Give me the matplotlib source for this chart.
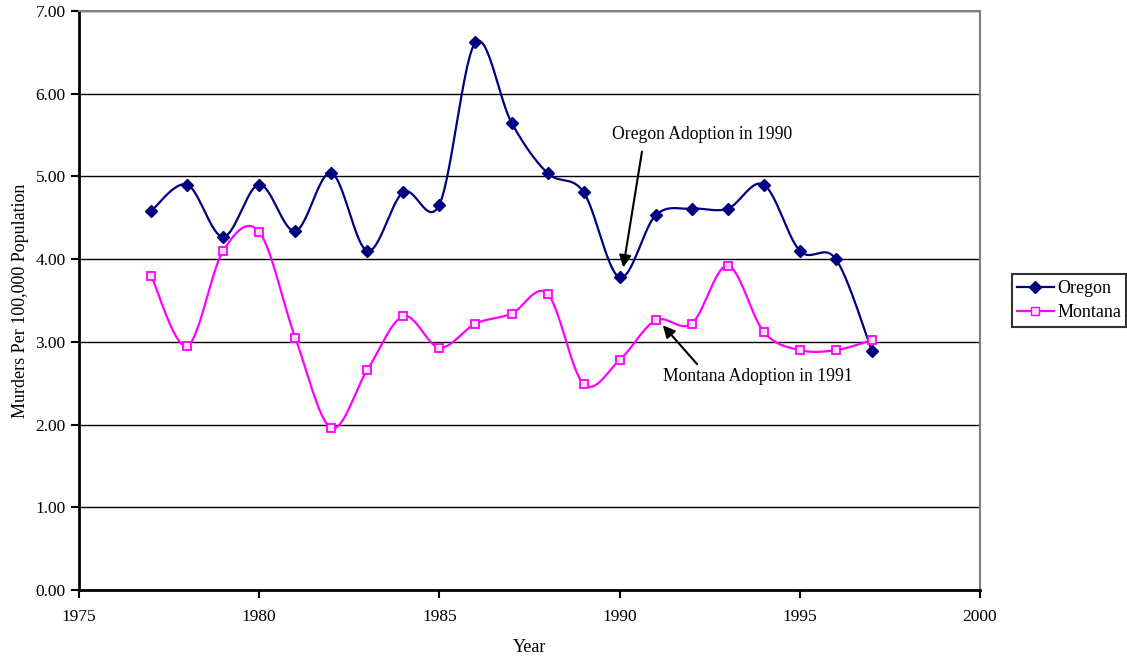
import numpy as np
import matplotlib
matplotlib.use("Agg")
import matplotlib.pyplot as plt

plt.rcParams['font.family'] = ['Liberation Serif', 'DejaVu Serif']

years = list(range(1977, 1998))
oregon = [4.58, 4.90, 4.27, 4.90, 4.34, 5.04, 4.10, 4.81, 4.66, 6.62, 5.65,
          5.04, 4.81, 3.78, 4.53, 4.61, 4.61, 4.90, 4.10, 4.00, 2.89]
montana = [3.80, 2.95, 4.10, 4.33, 3.05, 1.96, 2.66, 3.31, 2.93, 3.22, 3.34,
           3.58, 2.49, 2.78, 3.26, 3.22, 3.92, 3.12, 2.90, 2.90, 3.02]


#curva suavizada tipo Excel (Catmull-Rom) que pasa por los puntos
def smooth(x, y, n=30):
    x = np.asarray(x, float)
    y = np.asarray(y, float)
    px = np.concatenate([[x[0]], x, [x[-1]]])
    py = np.concatenate([[y[0]], y, [y[-1]]])
    xs, ys = [], []
    t = np.linspace(0, 1, n)
    for i in range(1, len(px) - 2):
        for p, out in ((px, xs), (py, ys)):
            p0, p1, p2, p3 = p[i - 1], p[i], p[i + 1], p[i + 2]
            c1 = p1 + (p2 - p0) / 6
            c2 = p2 - (p3 - p1) / 6
            out.extend((1 - t)**3 * p1 + 3 * (1 - t)**2 * t * c1
                       + 3 * (1 - t) * t**2 * c2 + t**3 * p2)
    return np.array(xs), np.array(ys)


fig = plt.figure(figsize=(11.27, 6.62), dpi=100)
ax = fig.add_axes([0.0701, 0.1088, 0.7995, 0.8746])

ox, oy = smooth(years, oregon)
mx, my = smooth(years, montana)
ax.plot(ox, oy, color="#000080", lw=1.6, zorder=3)
ax.plot(mx, my, color="#FF00FF", lw=1.6, zorder=3)
ax.plot(years, oregon, ls="none", marker="D", ms=6, color="#000080", zorder=4)
ax.plot(years, montana, ls="none", marker="s", ms=6, mfc="#FFE0FF",
        mec="#FF00FF", mew=1.3, zorder=4)

# legend con línea + marcador
ax.plot([], [], color="#000080", lw=1.6, marker="D", ms=6, label="Oregon")
ax.plot([], [], color="#FF00FF", lw=1.6, marker="s", ms=6, mfc="#FFE0FF",
        mec="#FF00FF", label="Montana")
leg = ax.legend(loc="center left", bbox_to_anchor=(1.0355, 0.5), fontsize=13,
                frameon=True, fancybox=False, edgecolor="black",
                borderpad=0.3, handlelength=2.0, handletextpad=0.2,
                labelspacing=0.4, borderaxespad=0)
leg.get_frame().set_linewidth(1.5)

ax.set_xlim(1975, 2000)
ax.set_ylim(0, 7)
ax.set_xticks(range(1975, 2001, 5))
ax.set_yticks(np.arange(0, 7.01, 1))
ax.set_yticklabels(["%.2f" % v for v in np.arange(0, 7.01, 1)])
ax.yaxis.grid(True, color="black", lw=1)
ax.set_axisbelow(True)
ax.tick_params(direction="out", length=6, width=1.5, labelsize=12.5,
               colors="black")
ax.tick_params(axis="x", pad=8)
for s in ("left", "bottom"):
    ax.spines[s].set_linewidth(2)
for s in ("top", "right"):
    ax.spines[s].set_color("#808080")
    ax.spines[s].set_linewidth(1.5)

ax.set_xlabel("Year", fontsize=13, labelpad=10)
ax.set_ylabel("Murders Per 100,000 Population", fontsize=13, labelpad=5)

arrow = dict(arrowstyle="-|>", color="black", lw=1.5, mutation_scale=18,
             shrinkA=0, shrinkB=0)
ax.annotate("", xy=(1990.1, 3.90), xytext=(1990.62, 5.30), arrowprops=arrow)
ax.text(1992.29, 5.51, "Oregon Adoption in 1990", fontsize=12.7,
        ha="center", va="center")
ax.annotate("", xy=(1991.2, 3.20), xytext=(1992.15, 2.73), arrowprops=arrow)
ax.text(1993.84, 2.58, "Montana Adoption in 1991", fontsize=12.7,
        ha="center", va="center")

fig.savefig("out.png", dpi=100)
